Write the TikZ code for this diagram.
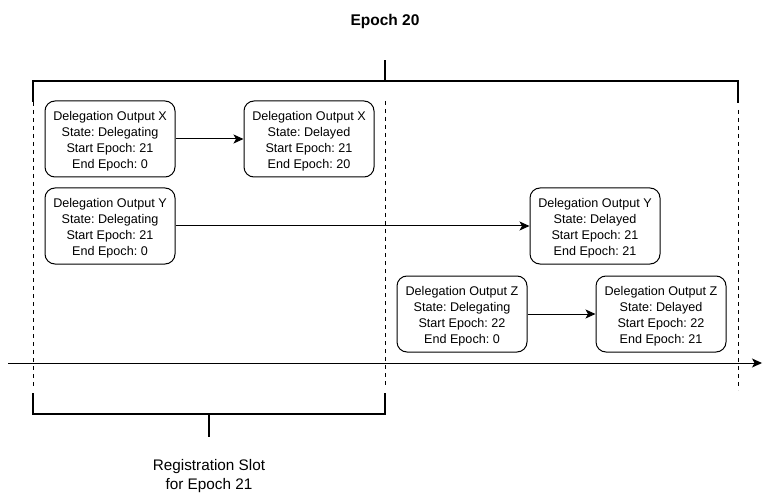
\documentclass[tikz,border=0pt]{standalone}
\usepackage{fontspec}
\setmainfont{Liberation Sans}
\usetikzlibrary{arrows.meta}
\frenchspacing
\newcommand{\boxtxt}[1]{\parbox{130pt}{\vspace*{5pt}\centering #1}}
\begin{document}
\begin{tikzpicture}[x=1pt,y=-1pt,
  outbox/.style={draw,rounded corners=10pt,line width=1pt,minimum width=130pt,minimum height=76pt,align=center,font=\fontsize{12.6}{16}\selectfont,inner sep=0pt},
  conn/.style={line width=1pt,-{Stealth[length=10pt,width=9pt,inset=2.5pt]}},
  dashline/.style={line width=0.8pt,dash pattern=on 4pt off 4pt},
  bracket/.style={line width=2pt}]
\useasboundingbox (0,0) rectangle (770,494);
\node[font=\fontsize{15.5}{18}\selectfont\bfseries] (title) at (385,21) {Epoch 20};
% top bracket
\coordinate (tl) at (33,102);
\coordinate (tlc) at (33,81);
\coordinate (trc) at (738,81);
\coordinate (tr) at (738,103);
\coordinate (tm) at (385,81);
\coordinate (tmt) at (385,60);
\draw[bracket] (tl) -- (tlc) -- (trc) -- (tr);
\draw[bracket] (tm) -- (tmt);
% dashed verticals
\coordinate (d1a) at (33,102); \coordinate (d1b) at (33,386);
\coordinate (d2a) at (385,101); \coordinate (d2b) at (385,386);
\coordinate (d3a) at (738,110); \coordinate (d3b) at (738,390);
\draw[dashline] (d1a) -- (d1b);
\draw[dashline] (d2a) -- (d2b);
\draw[dashline] (d3a) -- (d3b);
% timeline
\coordinate (ta) at (8,363);
\coordinate (tb) at (762,363);
\draw[conn] (ta) -- (tb);
% bottom bracket
\coordinate (bl) at (33,393);
\coordinate (blc) at (33,414);
\coordinate (brc) at (385,414);
\coordinate (br) at (385,393);
\coordinate (bm) at (209,414);
\coordinate (bmt) at (209,437);
\draw[bracket] (bl) -- (blc) -- (brc) -- (br);
\draw[bracket] (bm) -- (bmt);
\node[font=\fontsize{15.3}{19}\selectfont,align=center] (reg) at (209,476) {Registration Slot\\for Epoch 21};
% boxes
\node[outbox] (x1) at (110,139) {\boxtxt{Delegation Output X\\State: Delegating\\Start Epoch: 21\\End Epoch: 0}};
\node[outbox] (x2) at (309,139) {\boxtxt{Delegation Output X\\State: Delayed\\Start Epoch: 21\\End Epoch: 20}};
\node[outbox] (y1) at (110,226) {\boxtxt{Delegation Output Y\\State: Delegating\\Start Epoch: 21\\End Epoch: 0}};
\node[outbox] (y2) at (595,226) {\boxtxt{Delegation Output Y\\State: Delayed\\Start Epoch: 21\\End Epoch: 21}};
\node[outbox] (z1) at (462,314) {\boxtxt{Delegation Output Z\\State: Delegating\\Start Epoch: 22\\End Epoch: 0}};
\node[outbox] (z2) at (661,314) {\boxtxt{Delegation Output Z\\State: Delayed\\Start Epoch: 22\\End Epoch: 21}};
\draw[conn] (x1) -- (x2);
\draw[conn] (y1) -- (y2);
\draw[conn] (z1) -- (z2);
\end{tikzpicture}
\end{document}
